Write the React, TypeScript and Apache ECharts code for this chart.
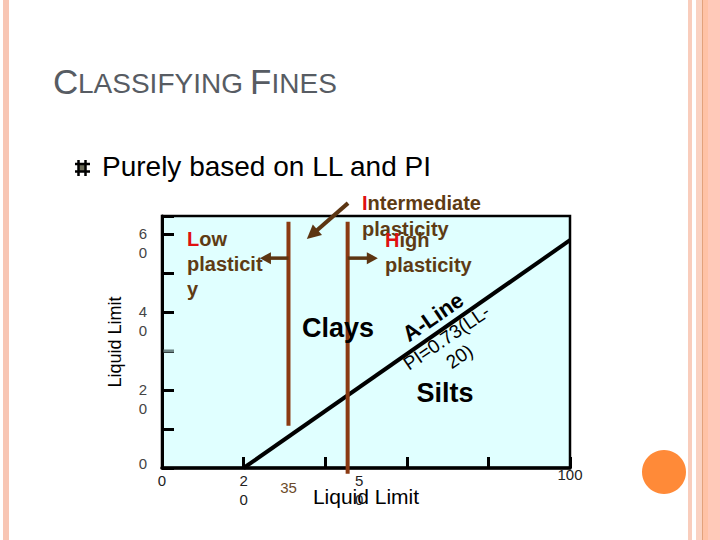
import React, { useEffect, useRef } from 'react';
import * as echarts from 'echarts';

// ---- data ----
const X_MIN = 0;
const X_MAX = 100;
const X_INTERVAL = 20;
const X_LABEL_VALUES = [0, 20, 100];
const X_LABEL_TEXTS = ['0', '2\n0', '100'];
const Y_MIN = 0;
const Y_MAX = 64.6;
const Y_INTERVAL = 10;
const Y_LABEL_VALUES = [0, 20, 40, 60];
const Y_LABEL_TEXTS = ['0', '2\n0', '4\n0', '6\n0'];
const GRAY_TICK_PI = [30];

const A_LINE_LL = [20, 100];
const A_LINE_PI = [0, 58.4];

const DIVIDER_LL = [31, 45.5];
const DIVIDER_TOP_PI = [63.1, 63.1];
const DIVIDER_BOTTOM_PI = [10.8, -1.5];

const ARROW_FROM_LL = [31, 45.5, 45.6];
const ARROW_FROM_PI = [53.8, 53.8, 67.9];
const ARROW_TO_LL = [24.0, 52.9, 35.5];
const ARROW_TO_PI = [53.8, 53.8, 58.7];

const EXTRA_X_LABEL_LL = [31, 48.3];
const EXTRA_X_LABEL_TEXT = ['35', '5\n0'];

const FONT = 'Liberation Sans, Arial, sans-serif';
const BROWN_TEXT = '#5E3B14';
const RED = '#E01010';

export default function App() {
  const ref = useRef<HTMLDivElement>(null);

  useEffect(() => {
    if (!ref.current) return;
    const chart = echarts.init(ref.current, null, { renderer: 'svg' });

    const labelText = (vals: number[], texts: string[], v: number) => {
      const i = vals.indexOf(v);
      return i >= 0 ? texts[i] : '';
    };

    const option: any = {
      animation: false,
      backgroundColor: '#ffffff',
      grid: {
        left: 162,
        right: 150,
        top: 216,
        bottom: 72,
        show: true,
        backgroundColor: '#E0FFFF',
        borderColor: '#000',
        borderWidth: 2.5,
      },
      xAxis: {
        type: 'value',
        min: X_MIN,
        max: X_MAX,
        interval: X_INTERVAL,
        splitLine: { show: false },
        axisLine: { show: true, lineStyle: { color: '#000', width: 3.5 } },
        axisTick: { show: true, inside: true, length: 11, lineStyle: { color: '#000', width: 3 } },
        axisLabel: {
          margin: 3,
          fontSize: 15,
          lineHeight: 19,
          color: '#222',
          fontFamily: FONT,
          verticalAlign: 'top',
          formatter: (v: number) => {
            const t = labelText(X_LABEL_VALUES, X_LABEL_TEXTS, v);
            return v === X_MAX ? '{h|' + t + '}' : t;
          },
          rich: { h: { fontSize: 15, lineHeight: 7, color: '#222', fontFamily: FONT } },
        },
        name: 'Liquid Limit',
        nameLocation: 'middle',
        nameGap: 18,
        nameMoveOverlap: false,
        nameTextStyle: { fontSize: 21, color: '#000', fontFamily: FONT },
      },
      yAxis: {
        type: 'value',
        min: Y_MIN,
        max: Y_MAX,
        interval: Y_INTERVAL,
        splitLine: { show: false },
        axisLine: { show: true, lineStyle: { color: '#000', width: 3 } },
        axisTick: { show: true, inside: true, length: 12, lineStyle: { color: '#000', width: 3 } },
        axisLabel: {
          margin: 15,
          fontSize: 15,
          lineHeight: 19,
          color: '#444',
          fontFamily: FONT,
          formatter: (v: number) => {
            const t = labelText(Y_LABEL_VALUES, Y_LABEL_TEXTS, v);
            if (!t) return '';
            return v === 0 ? '{z|' + t + '}' : '\n' + t;
          },
          rich: { z: { fontSize: 15, lineHeight: 19, padding: [0, 0, 10, 0], color: '#444', fontFamily: FONT } },
        },
        name: 'Liquid Limit',
        nameLocation: 'middle',
        nameRotate: 90,
        nameGap: 38,
        nameMoveOverlap: false,
        nameTextStyle: { fontSize: 18, color: '#000', fontFamily: FONT },
      },
      series: [
        {
          type: 'line',
          name: 'A-Line',
          data: A_LINE_LL.map((x, i) => [x, A_LINE_PI[i]]),
          symbol: 'none',
          lineStyle: { color: '#000', width: 4 },
          z: 3,
        },
        {
          type: 'custom',
          name: 'dividers',
          clip: false,
          z: 4,
          encode: { x: [0, 2], y: [1, 3] },
          data: DIVIDER_LL.map((x, i) => [x, DIVIDER_TOP_PI[i], x, DIVIDER_BOTTOM_PI[i]]),
          renderItem: (_p: any, api: any) => {
            const a = api.coord([api.value(0), api.value(1)]);
            const b = api.coord([api.value(2), api.value(3)]);
            return {
              type: 'line',
              shape: { x1: a[0], y1: a[1], x2: b[0], y2: b[1] },
              style: { stroke: '#8B3A12', lineWidth: 4 },
            };
          },
        },
        {
          type: 'custom',
          name: 'arrows',
          clip: false,
          z: 5,
          encode: { x: [0, 2], y: [1, 3] },
          data: ARROW_FROM_LL.map((x, i) => [x, ARROW_FROM_PI[i], ARROW_TO_LL[i], ARROW_TO_PI[i]]),
          renderItem: (params: any, api: any) => {
            const a = api.coord([api.value(0), api.value(1)]);
            const b = api.coord([api.value(2), api.value(3)]);
            const dx = b[0] - a[0];
            const dy = b[1] - a[1];
            const len = Math.sqrt(dx * dx + dy * dy) || 1;
            const ux = dx / len;
            const uy = dy / len;
            const big = params.dataIndex === 2;
            const hl = big ? 14 : 11;
            const hw = big ? 7 : 6;
            const bx = b[0] - ux * hl;
            const by = b[1] - uy * hl;
            const nx = -uy;
            const ny = ux;
            const color = '#5C3512';
            return {
              type: 'group',
              children: [
                {
                  type: 'line',
                  shape: { x1: a[0], y1: a[1], x2: bx + ux * 2, y2: by + uy * 2 },
                  style: { stroke: color, lineWidth: big ? 4 : 3.5 },
                },
                {
                  type: 'polygon',
                  shape: { points: [[b[0], b[1]], [bx + nx * hw, by + ny * hw], [bx - nx * hw, by - ny * hw]] },
                  style: { fill: color },
                },
              ],
            };
          },
        },
        {
          type: 'custom',
          name: 'grayTick',
          clip: false,
          z: 6,
          data: GRAY_TICK_PI.map((y) => [X_MIN, y]),
          renderItem: (_p: any, api: any) => {
            const a = api.coord([api.value(0), api.value(1)]);
            return {
              type: 'line',
              shape: { x1: a[0] + 1.5, y1: a[1], x2: a[0] + 12, y2: a[1] },
              style: { stroke: '#6E8686', lineWidth: 3 },
            };
          },
        },
        {
          type: 'custom',
          name: 'extraLabels',
          clip: false,
          z: 6,
          data: EXTRA_X_LABEL_LL.map((x, i) => [x, Y_MIN, i]),
          renderItem: (_p: any, api: any) => {
            const idx = api.value(2);
            const a = api.coord([api.value(0), api.value(1)]);
            const isFirst = idx === 0;
            return {
              type: 'text',
              x: a[0],
              y: a[1] + (isFirst ? 9.5 : 3),
              style: {
                text: EXTRA_X_LABEL_TEXT[idx],
                fill: isFirst ? '#6B4A2A' : '#222',
                fontSize: 15,
                lineHeight: 19,
                fontFamily: FONT,
                align: 'center',
                verticalAlign: 'top',
              },
            };
          },
        },
      ],
      graphic: [
        // slide decorations
        { type: 'rect', shape: { x: 3, y: 0, width: 6, height: 540 }, style: { fill: '#F8C6B4' } },
        { type: 'rect', shape: { x: 688, y: 0, width: 4, height: 540 }, style: { fill: '#F9CDBC' } },
        { type: 'rect', shape: { x: 696, y: 0, width: 6, height: 540 }, style: { fill: '#FAD2C2' } },
        { type: 'rect', shape: { x: 702, y: 0, width: 1.2, height: 540 }, style: { fill: '#E3A27C' } },
        { type: 'rect', shape: { x: 703, y: 0, width: 5, height: 540 }, style: { fill: '#FFC2A6' } },
        { type: 'rect', shape: { x: 708, y: 0, width: 12, height: 540 }, style: { fill: '#FFC9B9' } },
        { type: 'circle', shape: { cx: 664, cy: 472, r: 22 }, style: { fill: '#FF8A38' } },
        // title
        { type: 'text', x: 53, y: 81, style: { text: 'C', fontSize: 35, fontFamily: FONT, fill: '#575C63', verticalAlign: 'middle' } },
        { type: 'text', x: 78, y: 83.5, style: { text: 'LASSIFYING', fontSize: 28, fontFamily: FONT, fill: '#575C63', verticalAlign: 'middle' } },
        { type: 'text', x: 250, y: 81, style: { text: 'F', fontSize: 35, fontFamily: FONT, fill: '#575C63', verticalAlign: 'middle' } },
        { type: 'text', x: 271.5, y: 83.5, style: { text: 'INES', fontSize: 28, fontFamily: FONT, fill: '#575C63', verticalAlign: 'middle' } },
        // bullet
        { type: 'rect', shape: { x: 78, y: 164, width: 8, height: 7 }, style: { fill: '#6B6B58' } },
        { type: 'line', shape: { x1: 78.5, y1: 160, x2: 78.5, y2: 176 }, style: { stroke: '#000', lineWidth: 2.5 } },
        { type: 'line', shape: { x1: 85.5, y1: 160, x2: 85.5, y2: 176 }, style: { stroke: '#000', lineWidth: 2.5 } },
        { type: 'line', shape: { x1: 75, y1: 164, x2: 90, y2: 164 }, style: { stroke: '#000', lineWidth: 2.5 } },
        { type: 'line', shape: { x1: 75, y1: 171.5, x2: 90, y2: 171.5 }, style: { stroke: '#000', lineWidth: 2.5 } },
        { type: 'text', x: 102, y: 166, style: { text: 'Purely based on LL and PI', fontSize: 28, fontFamily: FONT, fill: '#000', verticalAlign: 'middle' } },
        // plot annotations
        {
          type: 'text', x: 187, y: 226.5, z: 20,
          style: {
            text: '{r|L}ow\nplasticit\ny', fontSize: 20, fontWeight: 'bold', fontFamily: FONT, fill: BROWN_TEXT,
            lineHeight: 25, verticalAlign: 'top',
            rich: { r: { fill: RED, fontSize: 20, fontWeight: 'bold', fontFamily: FONT, lineHeight: 25 } },
          },
        },
        {
          type: 'text', x: 362, y: 190, z: 20,
          style: {
            text: '{r|I}ntermediate\nplasticity', fontSize: 20, fontWeight: 'bold', fontFamily: FONT, fill: BROWN_TEXT,
            lineHeight: 26, verticalAlign: 'top',
            rich: { r: { fill: RED, fontSize: 20, fontWeight: 'bold', fontFamily: FONT, lineHeight: 26 } },
          },
        },
        {
          type: 'text', x: 385, y: 227.5, z: 20,
          style: {
            text: '{r|H}igh\nplasticity', fontSize: 20, fontWeight: 'bold', fontFamily: FONT, fill: BROWN_TEXT,
            lineHeight: 25, verticalAlign: 'top',
            rich: { r: { fill: RED, fontSize: 20, fontWeight: 'bold', fontFamily: FONT, lineHeight: 25 } },
          },
        },
        { type: 'text', x: 338, y: 328, z: 20, style: { text: 'Clays', fontSize: 27, fontWeight: 'bold', fontFamily: FONT, fill: '#000', align: 'center', verticalAlign: 'middle' } },
        { type: 'text', x: 445, y: 393, z: 20, style: { text: 'Silts', fontSize: 27, fontWeight: 'bold', fontFamily: FONT, fill: '#000', align: 'center', verticalAlign: 'middle' } },
        { type: 'text', x: 433, y: 317, rotation: 0.6, z: 20, style: { text: 'A-Line', fontSize: 22, fontWeight: 'bold', fontFamily: FONT, fill: '#000', align: 'center', verticalAlign: 'middle' } },
        { type: 'text', x: 453, y: 347, rotation: 0.6, z: 20, style: { text: 'PI=0.73(LL-\n20)', fontSize: 19, lineHeight: 23, fontFamily: FONT, fill: '#000', align: 'center', verticalAlign: 'middle' } },
      ],
    };

    chart.setOption(option);
    return () => chart.dispose();
  }, []);

  return <div ref={ref} style={{ position: 'fixed', left: 0, top: 0, width: 720, height: 540 }} />;
}
